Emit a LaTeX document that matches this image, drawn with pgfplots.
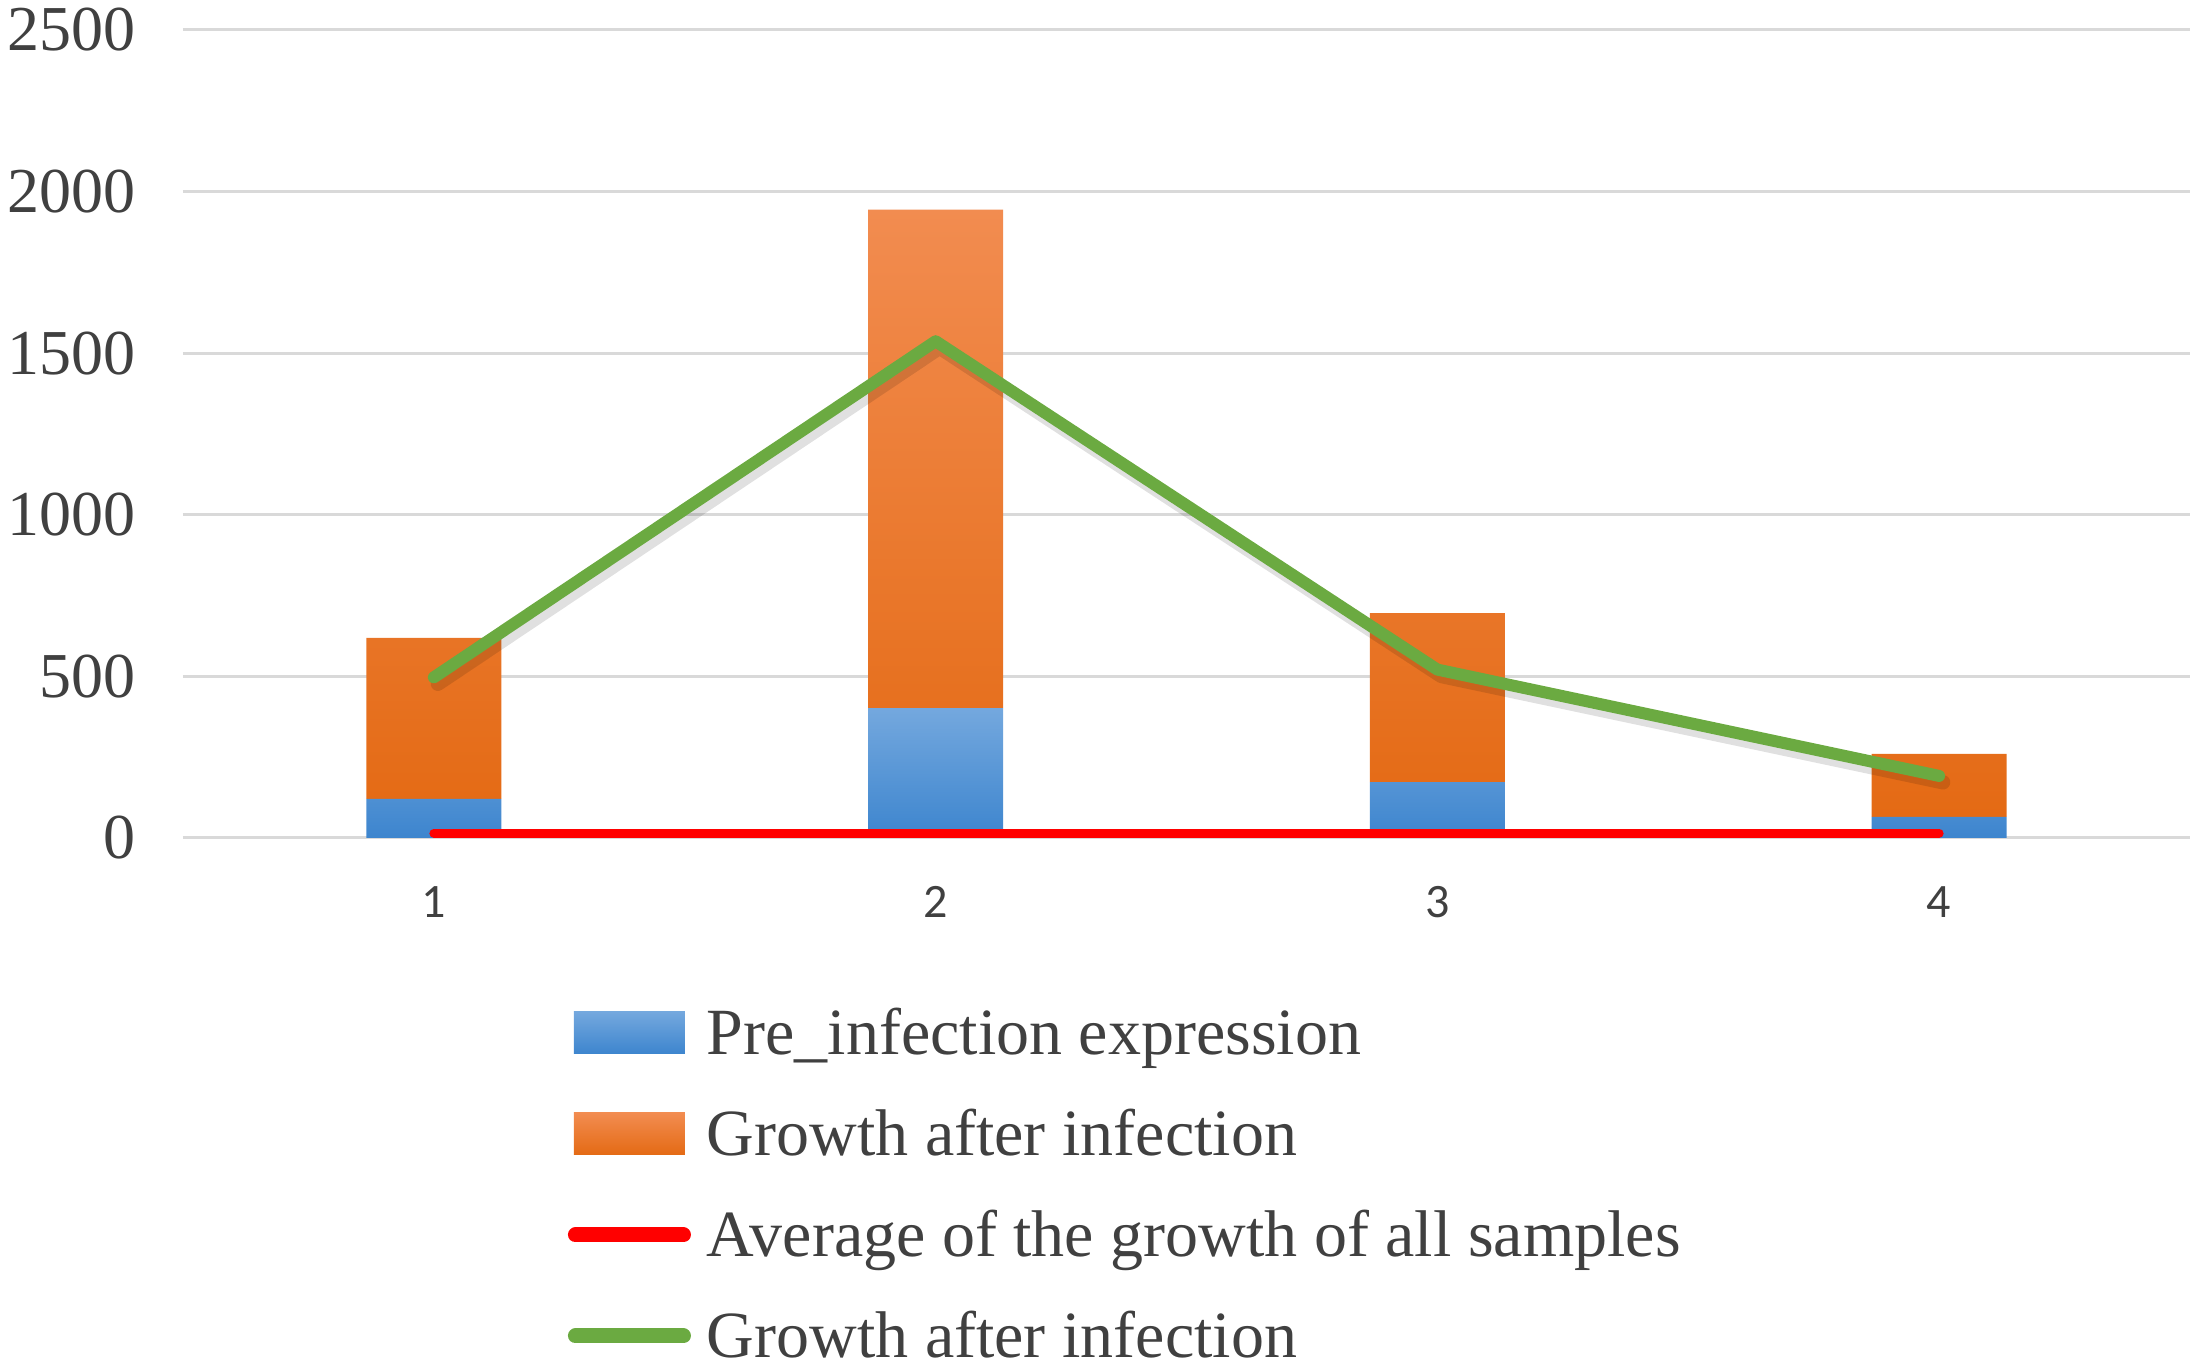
\documentclass[border=0pt]{standalone}
\usepackage{fontspec}
\setmainfont{Liberation Serif}
\newfontfamily\carlito{Carlito}
\usepackage{pgfplots}
\pgfplotsset{compat=1.18}
\definecolor{blueT}{HTML}{74A8DE}
\definecolor{blueM}{HTML}{5A9ADA}
\definecolor{blueB}{HTML}{3D85CE}
\definecolor{orangeT}{HTML}{F28C50}
\definecolor{orangeM}{HTML}{F17F2E}
\definecolor{orangeB}{HTML}{E46A14}
\definecolor{lgreen}{HTML}{6BAA41}
\definecolor{gridgray}{HTML}{D9D9D9}
\definecolor{labelgray}{HTML}{404040}
\begin{document}
\begin{tikzpicture}
\useasboundingbox (0,0) rectangle (550pt,341.75pt);
\pgfplotsset{
  common/.style={
    at={(45.75pt,132.25pt)}, anchor=south west,
    scale only axis, width=501.75pt, height=202pt,
    xmin=0.5, xmax=4.5, ymin=0, ymax=2500,
  }
}
\begin{axis}[
  common,
  ybar stacked, bar width=33.75pt,
  xtick={1,2,3,4}, ytick={0,500,1000,1500,2000,2500},
  scaled y ticks=false,
  /pgf/number format/1000 sep={},
  /pgf/number format/assume math mode=true,
  axis line style={draw=none},
  major tick length=0pt,
  ymajorgrids, grid style={line width=0.75pt, color=gridgray},
  yticklabel style={font=\fontsize{16}{16}\selectfont, text=labelgray, anchor=east, inner sep=0pt, xshift=-11.75pt},
  xticklabel style={font=\carlito\fontsize{12}{12}\selectfont, text=labelgray, anchor=center, inner sep=0pt, yshift=-16pt},
]
\addplot[draw=none, top color=blueT, middle color=blueM, bottom color=blueB] coordinates {(1,121) (2,402) (3,173) (4,65)};
\addplot[draw=none, top color=orangeT, middle color=orangeM, bottom color=orangeB] coordinates {(1,498) (2,1542) (3,523) (4,195)};
\end{axis}
\begin{axis}[
  common,
  hide axis,
  clip=false,
  legend cell align=left,
  legend style={at={(0.1918,-0.1943)}, anchor=north west, draw=none, fill=none,
    inner sep=0pt, outer sep=0pt, row sep=6.25pt, column sep=4pt,
    font=\fontsize{16.5}{16.5}\selectfont, text=labelgray,
    nodes={text height=15pt, text depth=4pt, inner sep=0pt}},
]
\addlegendimage{legend image code/.code={\path[draw=none, top color=blueT, middle color=blueM, bottom color=blueB] (0pt,-5.25pt) rectangle (27.75pt,5.25pt);}}
\addlegendentry{Pre\_infection expression}
\addlegendimage{legend image code/.code={\path[draw=none, top color=orangeT, middle color=orangeM, bottom color=orangeB] (0pt,-5.25pt) rectangle (27.75pt,5.25pt);}}
\addlegendentry{Growth after infection}
\addplot[red, line width=2.25pt, line cap=round,
  legend image code/.code={\draw[red, line width=3.75pt, line cap=round] (0.4pt,0pt) -- (27.4pt,0pt);}]
  coordinates {(1,15) (2,15) (3,15) (4,15)};
\addlegendentry{Average of the growth of all samples}
\addplot[forget plot, black, opacity=0.12, line width=3.6pt, line cap=round, line join=round, shift={(1pt,-1.6pt)}]
  coordinates {(1,497) (2,1537) (3,521) (4,192)};
\addplot[lgreen, line width=3pt, line cap=round, line join=round,
  legend image code/.code={\draw[lgreen, line width=3.75pt, line cap=round] (0.4pt,0pt) -- (27.4pt,0pt);}]
  coordinates {(1,497) (2,1537) (3,521) (4,192)};
\addlegendentry{Growth after infection}
\end{axis}
\end{tikzpicture}
\end{document}
